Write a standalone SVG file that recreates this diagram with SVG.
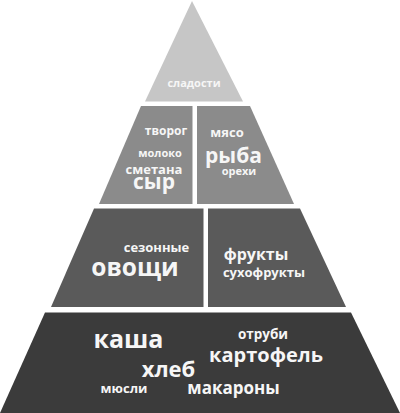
<svg xmlns="http://www.w3.org/2000/svg" width="400" height="413" viewBox="0 0 400 413">
<style>
.t{font-family:"Open Sans","Liberation Sans",sans-serif;font-weight:bold;fill:#f6f6f6;text-anchor:middle}
.l1{fill:#c6c6c6}
.l2{fill:#8b8b8b}
.l3{fill:#5a5a5a}
.l4{fill:#3b3b3b}
</style>
<rect width="400" height="413" fill="#ffffff"/>
<g id="tier-sweets">
<polygon class="l1" points="192,1 145,101.5 243,101.5"/>
<text class="t" x="194" y="87" font-size="11">сладости</text>
</g>
<g id="tier-dairy">
<polygon class="l2" points="141,106 192.5,106 192.5,204 99,204"/>
<text class="t" x="166" y="135" font-size="12">творог</text>
<text class="t" x="160" y="157" font-size="11">молоко</text>
<text class="t" x="154" y="173.5" font-size="13">сметана</text>
<text class="t" x="154" y="188.5" font-size="21">сыр</text>
</g>
<g id="tier-meat">
<polygon class="l2" points="197,106 250,106 294,204 197,204"/>
<text class="t" x="227" y="137" font-size="13">мясо</text>
<text class="t" x="233.5" y="162.5" font-size="21">рыба</text>
<text class="t" x="239" y="174.5" font-size="11">орехи</text>
</g>
<g id="tier-veg">
<polygon class="l3" points="94,208.5 203.5,208.5 203.5,307 51,307"/>
<text class="t" x="156.5" y="251.5" font-size="13">сезонные</text>
<text class="t" x="135" y="275.5" font-size="24.5">овощи</text>
</g>
<g id="tier-fruit">
<polygon class="l3" points="208,208.5 300,208.5 346,307 208,307"/>
<text class="t" x="256" y="260" font-size="16">фрукты</text>
<text class="t" x="264" y="277" font-size="13">сухофрукты</text>
</g>
<g id="tier-grain">
<polygon class="l4" points="45,312.5 351,312.5 400,413 0,413"/>
<text class="t" x="128.5" y="348" font-size="25">каша</text>
<text class="t" x="263" y="339" font-size="13.5">отруби</text>
<text class="t" x="266" y="362" font-size="20">картофель</text>
<text class="t" x="168.5" y="377" font-size="22">хлеб</text>
<text class="t" x="124" y="393" font-size="13">мюсли</text>
<text class="t" x="233.5" y="394" font-size="17">макароны</text>
</g>
<g id="connectors"></g>
</svg>
